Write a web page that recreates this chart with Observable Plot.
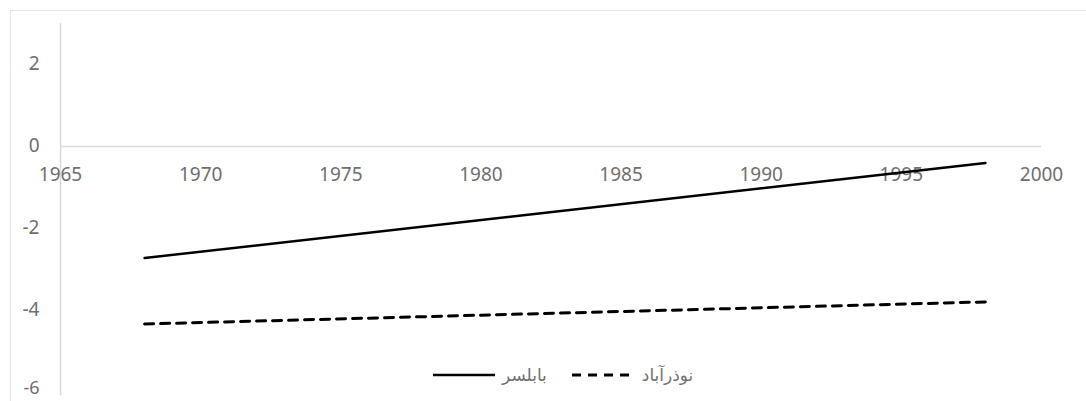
<!DOCTYPE html>
<html>
<head>
<meta charset="utf-8">
<script src="https://cdn.jsdelivr.net/npm/d3@7"></script>
<script src="https://cdn.jsdelivr.net/npm/@observablehq/plot@0.6"></script>
<style>
  html, body { margin: 0; padding: 0; background: #fff; }
  #wrap { position: relative; width: 1086px; height: 401px; overflow: hidden; }
  #frame { position: absolute; left: 10px; top: 10px; width: 1200px; height: 500px;
           border-top: 1px solid #e3e3e3; border-left: 1px solid #e3e3e3; }
  #chart { position: absolute; left: 0; top: 0; }
  #legend { position: absolute; left: 433px; top: 364px; height: 22px; display: flex; align-items: center;
            font-family: "DejaVu Sans", sans-serif; font-size: 17px; color: #707070; }
  #legend svg { display: block; }
</style>
</head>
<body>
<div id="wrap">
  <div id="frame"></div>
  <div id="chart"></div>
  <div id="legend"></div>
</div>
<script>
// Data
const years = [1968, 1998];
const babolsar = [-2.72, -0.40];      // بابلسر (solid)
const nozarabad = [-4.33, -3.79];     // نوذرآباد (dashed)
const seriesNames = ["بابلسر", "نوذرآباد"];
const xTicks = [1965, 1970, 1975, 1980, 1985, 1990, 1995, 2000];
const yTicks = [2, 0, -2, -4, -6];

const rowsA = years.map((yr, i) => ({year: yr, value: babolsar[i]}));
const rowsB = years.map((yr, i) => ({year: yr, value: nozarabad[i]}));

const gray = "#6e6e6e";
const axisColor = "#d9d9d9";
const yMin = d3.min(yTicks);

const plot = Plot.plot({
  width: 1086,
  height: 401,
  marginLeft: 60,
  marginRight: 45,
  marginTop: 23,
  marginBottom: 9,
  x: {domain: [1965, 2000], axis: null},
  y: {domain: [-6, 3], axis: null},
  style: {fontFamily: "'Noto Sans', sans-serif", fontSize: "19px", background: "transparent", overflow: "visible"},
  marks: [
    Plot.ruleX([1965], {y1: -6.08, y2: 3, stroke: axisColor, strokeWidth: 1.5}),
    Plot.ruleY([0], {x1: 1965, x2: 2000, stroke: axisColor, strokeWidth: 1.5}),
    Plot.text(yTicks.filter(d => d !== yMin), {x: 1965, y: d => d, text: d => String(d), textAnchor: "end", dx: -21, dy: -1, fill: gray}),
    Plot.text([yMin], {x: 1965, y: d => d, text: d => String(d), textAnchor: "end", dx: -21, dy: -4, fontSize: 18, fill: gray}),
    Plot.text(xTicks, {x: d => d, y: 0, text: d => String(d), dy: 28, fill: gray}),
    Plot.line(rowsB, {x: "year", y: "value", stroke: "black", strokeWidth: 3, strokeDasharray: "9,7"}),
    Plot.line(rowsA, {x: "year", y: "value", stroke: "black", strokeWidth: 2.5})
  ]
});
document.getElementById("chart").appendChild(plot);

// Legend
const legend = document.getElementById("legend");
function sample(dash, width, sw) {
  const ns = "http://www.w3.org/2000/svg";
  const s = document.createElementNS(ns, "svg");
  s.setAttribute("width", width); s.setAttribute("height", 6);
  const l = document.createElementNS(ns, "line");
  l.setAttribute("x1", 0); l.setAttribute("x2", width);
  l.setAttribute("y1", 3); l.setAttribute("y2", 3);
  l.setAttribute("stroke", "black"); l.setAttribute("stroke-width", sw);
  if (dash) l.setAttribute("stroke-dasharray", dash);
  s.appendChild(l);
  return s;
}
function label(t, ml, mr) {
  const sp = document.createElement("span");
  sp.textContent = t; sp.setAttribute("dir", "rtl");
  sp.style.marginLeft = ml + "px"; sp.style.marginRight = mr + "px";
  return sp;
}
legend.appendChild(sample(null, 62, 2.5));
legend.appendChild(label(seriesNames[0], 7, 25));
legend.appendChild(sample("9,7", 61, 3));
legend.appendChild(label(seriesNames[1], 9, 0));
</script>
</body>
</html>
